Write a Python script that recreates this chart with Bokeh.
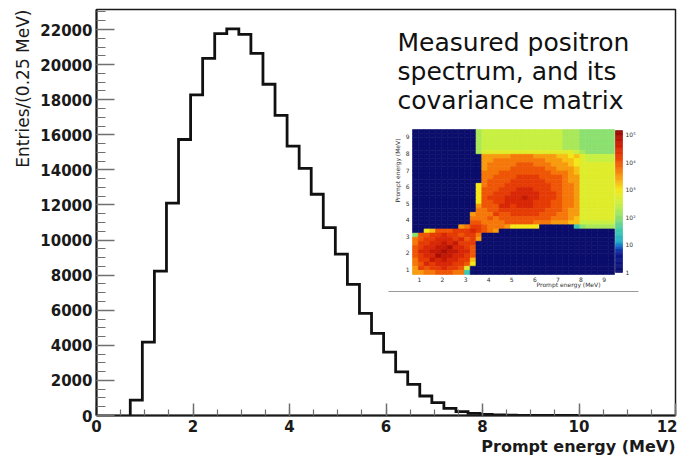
import math
import numpy as np
from bokeh.plotting import figure
from bokeh.models import Range1d, Label, Title, SingleIntervalTicker, LinearColorMapper, ColumnDataSource
from bokeh.core.properties import value
from bokeh.embed import file_html
from bokeh.resources import INLINE

# ---------------- data ----------------
energy_bin_start = 0.7      # MeV, lower edge of first bin
energy_bin_width = 0.25     # MeV
entries = [880, 4180, 8230, 12110, 15730, 18270, 20350, 21770, 22040, 21720,
           20640, 18880, 17100, 15350, 14080, 12610, 10710, 9200, 7470, 5820,
           4680, 3610, 2490, 1770, 1110, 730, 410, 220, 120, 60,
           35, 20, 12, 8, 5, 3, 2]

x_tick_interval = 2
y_tick_interval = 2000
x_label = "Prompt energy (MeV)"
y_label = "Entries/(0.25 MeV)"
annotation_lines = ["Measured positron", "spectrum, and its", "covariance matrix"]

# covariance matrix inset: 35 x 35 cells of 0.25 MeV, from 0.7 MeV.
# one character per cell, code index * 0.25 = log10(entry); top row first
cov_bin_start = 0.7
cov_bin_width = 0.25
cov_codes = "0123456789abcdefghijkl"
cov_decades_per_code = 0.25
cov_rows = [
    "0" * 11 + "9" + "a" * 14 + "999" + "888888",
    "0" * 11 + "9" + "a" * 14 + "999" + "888888",
    "0" * 11 + "9" + "a" * 14 + "999" + "888888",
    "0" * 11 + "9" + "a" * 14 + "999" + "888888",
    "0" * 11 + "9" + "a" * 14 + "999" + "888888",
    "0" * 11 + "9" + "b" * 16 + "a" + "988888",
    "0" * 10 + "0" + "0" + "eeeeeffffeeeeddcd" + "baaaaa",
    "0" * 10 + "0" + "0" + "eefffffffffeeeddc" + "baaaaa",
    "0" * 10 + "0" + "0" + "efffffgggfffeeedc" + "bbbbbb",
    "0" * 10 + "0" + "0" + "effffggggggffeeed" + "bbbbbb",
    "0" * 10 + "0" + "0" + "fffgggggggggfffed" + "bbbbbb",
    "0" * 10 + "0" + "0" + "ffgggghhhhggggfee" + "bbbbbb",
    "0" * 10 + "0" + "0" + "fgggghhhhhhgggfee" + "bbbbbb",
    "0" * 10 + "0" + "c" + "fggghhhhhhhhggffe" + "bbbbbb",
    "0" * 10 + "0" + "c" + "ggghhhiiihhhggffe" + "bbbbbb",
    "0" * 10 + "0" + "c" + "gghhhiiiiihhhgffe" + "bbbbbb",
    "0" * 10 + "0" + "c" + "ghhhiiijiihhhgffe" + "bbbbbb",
    "0" * 10 + "0" + "c" + "gghhiiiiihhhggffe" + "bbbbbb",
    "0" * 10 + "0" + "e" + "gggiihiiihhhggffe" + "bbbbbb",
    "0" * 10 + "0" + "f" + "fgghhhhhhhhgggfee" + "bbbbbb",
    "0" * 10 + "e" + "f" + "ffhgghhhhhgggffee" + "bbbbbb",
    "0" * 10 + "f" + "f" + "fgfgggggggggfffed" + "bbbbbb",
    "0" * 10 + "g" + "g" + "ffffgggggfffeeedd" + "aaaaaa",
    "0" * 8 + "efh" + "h" + "gfffe" + "ccccc" + "000000" + "6" + "899999",
    "00cdggghhhihgfe" + "0" * 20,
    "8gghhihhgh" + "h" + "f" + "0" * 23,
    "fghhiiihig" + "h" + "e" + "0" * 23,
    "fhhiijijhh" + "h" + "0" + "0" * 23,
    "ghiijjkiih" + "g" + "0" + "0" * 23,
    "giijjkjjii" + "g" + "0" + "0" * 23,
    "ghiikjjiih" + "g" + "0" + "0" * 23,
    "fhhjijiihh" + "d" + "0" + "0" * 23,
    "fgihiiihhg" + "c" + "0" + "0" * 23,
    "ehghhihhgb" + "0" + "0" + "0" * 23,
    "eeffgggff6" + "0" + "0" + "0" * 23,
]
inset_tick_values = [1, 2, 3, 4, 5, 6, 7, 8, 9]
cbar_decades = [0, 1, 2, 3, 4, 5]
cbar_labels = ["1", "10", "10\u00b2", "10\u00b3", "10\u2074", "10\u2075"]
cbar_max_decade = 5.15

# ---------------- layout (pixels on the page) ----------------
W, H = 677, 463
LB, RB, TB, BB = 96, 2, 9, 48
FW = W - LB - RB
FH = H - TB - BB
X_MAX = 12.0
Y_MAX = 23140.0
FL, FR, FT, FBOT = LB, W - RB, TB, H - BB


def dx(px):
    return (px - FL) / FW * X_MAX


def dy(py):
    return (FBOT - py) / FH * Y_MAX


# inset frame (page px)
INS_L, INS_R, INS_T, INS_B = 412, 614, 129, 274
NCOV = len(cov_rows)
E0 = cov_bin_start
E1 = cov_bin_start + NCOV * cov_bin_width
KX = (INS_R - INS_L) / (E1 - E0)
KY = (INS_B - INS_T) / (E1 - E0)


def ix(px):
    return E0 + (px - INS_L) / KX


def iy(py):
    return E0 + (INS_B - py) / KY


# ---------------- palette ----------------
anchors = [(0.0, "#0b0d6b"), (0.7, "#0b1a90"), (0.95, "#1060c8"), (1.1, "#20a8c8"),
           (1.5, "#3cc8b0"), (2.0, "#8ce070"), (2.5, "#c8f040"), (3.0, "#f4e818"),
           (3.4, "#f8a810"), (3.8, "#f47008"), (4.2, "#e84004"), (4.6, "#d22006"),
           (5.0, "#a80e04"), (5.25, "#800404")]
P_LO, P_HI = 0.0, 5.25


def hex2rgb(h):
    return tuple(int(h[k:k + 2], 16) for k in (1, 3, 5))


palette = []
for t in np.linspace(P_LO, P_HI, 256):
    for (a, ca), (b, cb) in zip(anchors[:-1], anchors[1:]):
        if a <= t <= b:
            f = (t - a) / (b - a)
            r1, g1, b1 = hex2rgb(ca)
            r2, g2, b2 = hex2rgb(cb)
            palette.append("#%02x%02x%02x" % (round(r1 + f * (r2 - r1)),
                                              round(g1 + f * (g2 - g1)),
                                              round(b1 + f * (b2 - b1))))
            break
mapper = LinearColorMapper(palette=palette, low=P_LO, high=P_HI)

# ---------------- figure ----------------
p = figure(width=W, height=H, x_range=Range1d(0, X_MAX), y_range=Range1d(0, Y_MAX),
           output_backend="svg", toolbar_location=None,
           min_border_left=LB, min_border_right=RB, min_border_top=TB, min_border_bottom=BB)
p.grid.visible = False
p.outline_line_color = "#1a1a1a"
p.outline_line_width = 1.5
p.background_fill_color = "white"
p.border_fill_color = "white"

p.xaxis.ticker = SingleIntervalTicker(interval=x_tick_interval, num_minor_ticks=4)
p.yaxis.ticker = SingleIntervalTicker(interval=y_tick_interval, num_minor_ticks=4)
for ax in (p.xaxis[0], p.yaxis[0]):
    ax.axis_line_width = 2
    ax.axis_line_color = "#1a1a1a"
    ax.major_tick_out = 0
    ax.minor_tick_out = 0
    ax.major_tick_line_color = "#707070"
    ax.minor_tick_line_color = "#707070"
    ax.major_tick_line_width = 1.5
    ax.minor_tick_line_width = 1.2
    ax.major_label_text_font = "DejaVu Sans"
    ax.major_label_text_font_style = "bold"
    ax.major_label_text_font_size = "15px"
    ax.major_label_text_color = "#1a1a1a"
    ax.major_label_standoff = 4
p.xaxis.major_tick_in = 12
p.xaxis.minor_tick_in = 6
p.yaxis.major_tick_in = 18
p.yaxis.minor_tick_in = 9

# axis titles (outside the frame)
p.add_layout(Title(text=y_label, align="right", text_font="DejaVu Sans",
                   text_font_size="17px", text_font_style="normal", text_color="#1a1a1a",
                   standoff=10, offset=0), "left")
p.add_layout(Title(text=x_label, align="right", text_font="DejaVu Sans",
                   text_font_size="16px", text_font_style="bold", text_color="#1a1a1a",
                   standoff=1, offset=0), "below")

# histogram outline
edges = energy_bin_start + energy_bin_width * np.arange(len(entries) + 1)
hx = np.repeat(edges, 2)
hy = np.concatenate([[0], np.repeat(entries, 2), [0]])
p.line(hx, hy, line_color="#111111", line_width=2.8, line_join="miter")

# ---------------- inset ----------------
p.extra_x_ranges = {"ins": Range1d(ix(FL), ix(FR))}
p.extra_y_ranges = {"ins": Range1d(iy(FBOT), iy(FT))}

lefts, rights, bottoms, tops, lv = [], [], [], [], []
for r, row in enumerate(cov_rows):
    row = row.ljust(NCOV, "0")[:NCOV]
    j = NCOV - 1 - r
    for i, ch in enumerate(row):
        lefts.append(cov_bin_start + i * cov_bin_width)
        rights.append(cov_bin_start + (i + 1) * cov_bin_width)
        bottoms.append(cov_bin_start + j * cov_bin_width)
        tops.append(cov_bin_start + (j + 1) * cov_bin_width)
        lv.append(cov_codes.index(ch) * cov_decades_per_code)
src = ColumnDataSource(dict(left=lefts, right=rights, bottom=bottoms, top=tops, lv=lv))
p.quad(left="left", right="right", bottom="bottom", top="top", source=src,
       fill_color={"field": "lv", "transform": mapper},
       line_color={"field": "lv", "transform": mapper}, line_width=0.6,
       x_range_name="ins", y_range_name="ins")

# colour bar
CB_L, CB_R, CB_B, CB_T = 615, 622, 272, 130
nseg = 120
seg = np.linspace(0, cbar_max_decade, nseg + 1)
cb_y = iy(CB_B) + (iy(CB_T) - iy(CB_B)) * seg / cbar_max_decade
cb_src = ColumnDataSource(dict(bottom=cb_y[:-1], top=cb_y[1:], lv=(seg[:-1] + seg[1:]) / 2))
p.quad(left=ix(CB_L), right=ix(CB_R), bottom="bottom", top="top", source=cb_src,
       fill_color={"field": "lv", "transform": mapper},
       line_color={"field": "lv", "transform": mapper}, line_width=0.6,
       x_range_name="ins", y_range_name="ins")
cbl_y = [iy(CB_B) + (iy(CB_T) - iy(CB_B)) * d / cbar_max_decade for d in cbar_decades]
p.text(x=[ix(625)] * len(cbar_labels), y=cbl_y, text=cbar_labels,
       text_font=value("DejaVu Sans"), text_font_size="6px", text_color="#333333",
       text_baseline="middle", text_align="left", x_range_name="ins", y_range_name="ins")

# inset tick labels
p.text(x=inset_tick_values, y=[iy(INS_B + 2)] * len(inset_tick_values),
       text=[str(v) for v in inset_tick_values],
       text_font=value("DejaVu Sans"), text_font_size="6px", text_color="#333333",
       text_baseline="top", text_align="center", x_range_name="ins", y_range_name="ins")
p.text(x=[ix(INS_L - 3)] * len(inset_tick_values), y=inset_tick_values,
       text=[str(v) for v in inset_tick_values],
       text_font=value("DejaVu Sans"), text_font_size="6px", text_color="#333333",
       text_baseline="middle", text_align="right", x_range_name="ins", y_range_name="ins")
p.text(x=[ix(600)], y=[iy(284)], text=[x_label],
       text_font=value("DejaVu Sans"), text_font_size="6px", text_color="#333333",
       text_baseline="middle", text_align="right", x_range_name="ins", y_range_name="ins")
p.text(x=[ix(397)], y=[iy(138)], text=[x_label], angle=math.pi / 2,
       text_font=value("DejaVu Sans"), text_font_size="6px", text_color="#333333",
       text_baseline="middle", text_align="right", x_range_name="ins", y_range_name="ins")
# separator under the inset
p.line(x=[ix(388), ix(638)], y=[iy(291), iy(291)], line_color="#9a9a9a", line_width=1.2,
       x_range_name="ins", y_range_name="ins")

# ---------------- annotation text ----------------
for k, line in enumerate(annotation_lines):
    p.add_layout(Label(x=dx(397), y=dy(41.7 + 29.2 * k), text=line,
                       text_font="DejaVu Sans", text_font_size="25px", text_color="#111111",
                       text_align="left", text_baseline="alphabetic"))

open("out.html", "w").write(file_html(p, INLINE))
